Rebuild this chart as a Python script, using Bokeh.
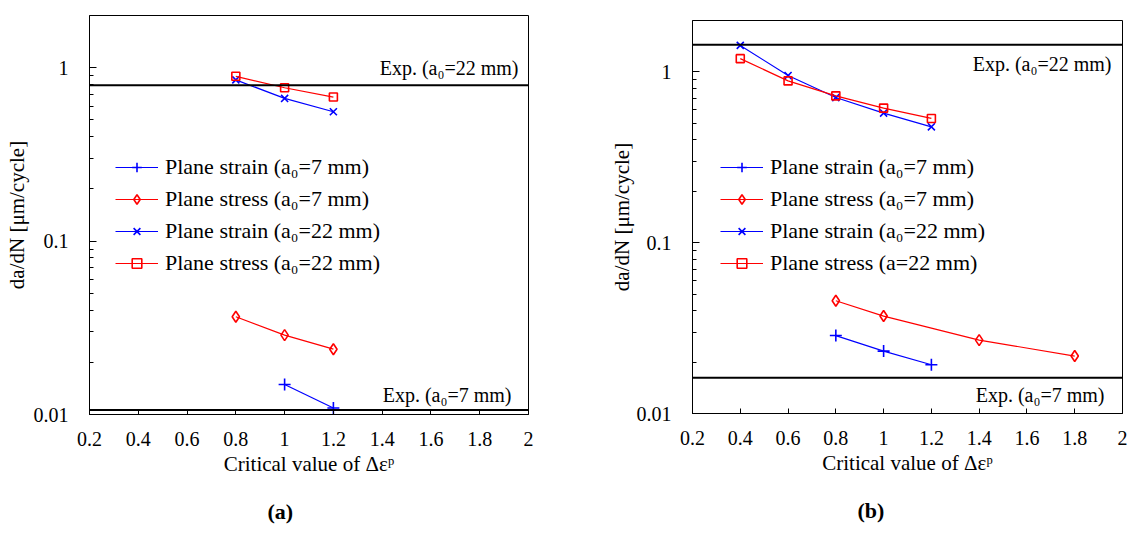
from bokeh.plotting import figure
from bokeh.models import Range1d, FixedTicker, Span, Label, Legend, LegendItem, Title
from bokeh.layouts import row, column
from bokeh.embed import file_html
from bokeh.resources import INLINE

SERIF = "Liberation Serif"
BLUE = "#0000FF"
RED = "#FF0000"

# ---- axes ----
x_ticks = [0.2, 0.4, 0.6, 0.8, 1.0, 1.2, 1.4, 1.6, 1.8, 2.0]
x_tick_labels = ["0.2", "0.4", "0.6", "0.8", "1", "1.2", "1.4", "1.6", "1.8", "2"]
y_ticks = [0.01, 0.1, 1.0]
y_tick_labels = ["0.01", "0.1", "1"]
y_minor_ticks = [0.02, 0.03, 0.04, 0.05, 0.06, 0.07, 0.08, 0.09,
                 0.2, 0.3, 0.4, 0.5, 0.6, 0.7, 0.8, 0.9]
x_title = "Critical value of \u0394\u03b5\u1d56"
y_title = "da/dN [\u03bcm/cycle]"

# ---- panel (a) ----
a_strain7_x = [1.0, 1.2]
a_strain7_y = [0.0149, 0.0109]
a_stress7_x = [0.8, 1.0, 1.2]
a_stress7_y = [0.0366, 0.0287, 0.0238]
a_strain22_x = [0.8, 1.0, 1.2]
a_strain22_y = [0.851, 0.665, 0.557]
a_stress22_x = [0.8, 1.0, 1.2]
a_stress22_y = [0.892, 0.766, 0.677]
a_exp22 = 0.793
a_exp7 = 0.0106
a_labels = ["Plane strain (a\u2080=7 mm)", "Plane stress (a\u2080=7 mm)",
            "Plane strain (a\u2080=22 mm)", "Plane stress (a\u2080=22 mm)"]

# ---- panel (b) ----
b_strain7_x = [0.8, 1.0, 1.2]
b_strain7_y = [0.0286, 0.0232, 0.0193]
b_stress7_x = [0.8, 1.0, 1.4, 1.8]
b_stress7_y = [0.0457, 0.0372, 0.0269, 0.0217]
b_strain22_x = [0.4, 0.6, 0.8, 1.0, 1.2]
b_strain22_y = [1.43, 0.952, 0.708, 0.574, 0.477]
b_stress22_x = [0.4, 0.6, 0.8, 1.0, 1.2]
b_stress22_y = [1.196, 0.886, 0.724, 0.614, 0.534]
b_exp22 = 1.44
b_exp7 = 0.0162
b_labels = ["Plane strain (a\u2080=7 mm)", "Plane stress (a\u2080=7 mm)",
            "Plane strain (a\u2080=22 mm)", "Plane stress (a=22 mm)"]

exp22_text = "Exp. (a\u2080=22 mm)"
exp7_text = "Exp. (a\u2080=7 mm)"


def make_panel(width, bl, br, bt, bb, series, labels, exp22, exp7,
               exp22_off, exp7_off, legend_loc, tag, tag_offset, ytitle_standoff):
    p = figure(width=width, height=542, y_axis_type="log",
               x_range=Range1d(0.2, 2.0), y_range=Range1d(0.01, 2.0),
               output_backend="svg", toolbar_location=None,
               min_border_left=bl, min_border_right=br,
               min_border_top=bt, min_border_bottom=bb)
    p.background_fill_color = "white"
    p.border_fill_color = "white"
    p.outline_line_color = "black"
    p.outline_line_width = 1
    p.grid.visible = False

    xa = p.xaxis[0]
    xa.ticker = FixedTicker(ticks=x_ticks, minor_ticks=[])
    xa.major_label_overrides = dict(zip(x_ticks, x_tick_labels))
    xa.major_tick_in = 5
    xa.major_tick_out = 0
    xa.minor_tick_in = 0
    xa.minor_tick_out = 0
    xa.major_label_standoff = 17
    xa.axis_label = x_title
    xa.axis_label_standoff = 3

    ya = p.yaxis[0]
    ya.ticker = FixedTicker(ticks=y_ticks, minor_ticks=y_minor_ticks)
    ya.major_label_overrides = dict(zip(y_ticks, y_tick_labels))
    ya.major_tick_in = 7
    ya.major_tick_out = 0
    ya.minor_tick_in = 4
    ya.minor_tick_out = 0
    ya.major_label_standoff = 21
    ya.axis_label = y_title
    ya.axis_label_standoff = ytitle_standoff

    for ax in (xa, ya):
        ax.axis_line_color = "black"
        ax.axis_line_width = 1
        ax.major_tick_line_color = "black"
        ax.minor_tick_line_color = "black"
        ax.major_label_text_font = SERIF
        ax.major_label_text_font_size = "20px"
        ax.major_label_text_color = "black"
        ax.axis_label_text_font = SERIF
        ax.axis_label_text_font_size = "21px"
        ax.axis_label_text_font_style = "normal"
        ax.axis_label_text_color = "black"

    # experimental reference lines
    p.add_layout(Span(location=exp22, dimension="width", line_color="black", line_width=2))
    p.add_layout(Span(location=exp7, dimension="width", line_color="black", line_width=2))
    p.add_layout(Label(x=2.0, y=exp22, x_offset=exp22_off[0], y_offset=exp22_off[1],
                       text=exp22_text, text_align="right", text_baseline="middle",
                       text_font=SERIF, text_font_size="20px", text_color="black"))
    p.add_layout(Label(x=2.0, y=exp7, x_offset=exp7_off[0], y_offset=exp7_off[1],
                       text=exp7_text, text_align="right", text_baseline="middle",
                       text_font=SERIF, text_font_size="20px", text_color="black"))

    items = []
    for (xs, ys, color, marker, msize), lab in zip(series, labels):
        ln = p.line(xs, ys, line_color=color, line_width=1.2)
        sc = p.scatter(xs, ys, marker=marker, size=msize,
                       line_color=color, fill_color=None, line_width=1.6)
        items.append(LegendItem(label=lab, renderers=[ln, sc]))

    leg = Legend(items=items, location=legend_loc)
    leg.background_fill_alpha = 0
    leg.border_line_alpha = 0
    leg.padding = 0
    leg.margin = 0
    leg.spacing = 6
    leg.glyph_width = 43
    leg.glyph_height = 24
    leg.label_height = 24
    leg.label_standoff = 7
    leg.label_text_font = SERIF
    leg.label_text_font_size = "22px"
    leg.label_text_color = "black"
    leg.label_text_baseline = "middle"
    p.add_layout(leg)

    p.add_layout(Title(text=tag, align="left", offset=tag_offset, standoff=37,
                       text_font=SERIF, text_font_size="22px", text_font_style="bold",
                       text_color="black"), "below")
    return p


series_a = [
    (a_strain7_x, a_strain7_y, BLUE, "cross", 12),
    (a_stress7_x, a_stress7_y, RED, "diamond", 11),
    (a_strain22_x, a_strain22_y, BLUE, "x", 10),
    (a_stress22_x, a_stress22_y, RED, "square", 8),
]
series_b = [
    (b_strain7_x, b_strain7_y, BLUE, "cross", 12),
    (b_stress7_x, b_stress7_y, RED, "diamond", 11),
    (b_strain22_x, b_strain22_y, BLUE, "x", 10),
    (b_stress22_x, b_stress22_y, RED, "square", 8),
]

p1 = make_panel(566, 89, 38, 15, 126, series_a, a_labels, a_exp22, a_exp7,
                (-10, 17), (-17, 15), (26, 138), "(a)", 178, 2)
p2 = make_panel(567, 126, 11, 20, 129, series_b, b_labels, b_exp22, b_exp7,
                (-11, -19), (-18, -17), (28, 137), "(b)", 165, 0)

layout = row(column(p1), column(p2))
open("out.html", "w").write(file_html(layout, INLINE))
